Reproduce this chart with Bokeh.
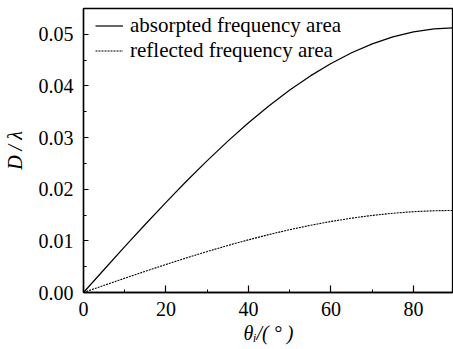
from bokeh.plotting import figure
from bokeh.models import Range1d, Legend, LegendItem, NumeralTickFormatter, FixedTicker
from bokeh.embed import file_html
from bokeh.resources import INLINE

# data
theta = [0, 5, 10, 15, 20, 25, 30, 35, 40, 45, 50, 55, 60, 65, 70, 75, 80, 85, 90]
absorbed = [0.0, 0.00445, 0.00888, 0.01322, 0.01745, 0.02160, 0.02555, 0.02932, 0.03287,
            0.03618, 0.03922, 0.04195, 0.04436, 0.04643, 0.04815, 0.04950, 0.05048, 0.05106, 0.05128]
reflected = [0.0, 0.00139, 0.00276, 0.00411, 0.00543, 0.00671, 0.00794, 0.00911, 0.01021,
             0.01123, 0.01217, 0.01301, 0.01376, 0.01440, 0.01493, 0.01535, 0.01565, 0.01583, 0.01590]
x_ticks = [0, 20, 40, 60, 80]
x_minor = [10, 30, 50, 70]
y_ticks = [0.00, 0.01, 0.02, 0.03, 0.04, 0.05]
y_minor = [0.005, 0.015, 0.025, 0.035, 0.045]
series_labels = ["absorpted frequency area", "reflected frequency area"]
x_title = "θᵢ/( ° )"
y_title = "D / λ"

FONT = "Liberation Serif"

p = figure(width=453, height=349, output_backend="svg", toolbar_location=None,
           x_range=Range1d(0, 89.7), y_range=Range1d(0, 0.0550),
           min_border_left=83, min_border_right=0, min_border_top=8, min_border_bottom=57)

p.xgrid.visible = False
p.ygrid.visible = False
p.background_fill_color = "white"
p.border_fill_color = "white"
p.outline_line_color = "black"
p.outline_line_width = 1.3

r1 = p.line(theta, absorbed, line_color="black", line_width=1.2)
r2 = p.line(theta, reflected, line_color="black", line_width=1.1, line_dash="2 1")

for ax in (p.xaxis[0], p.yaxis[0]):
    ax.axis_line_color = "black"
    ax.axis_line_width = 1.4
    ax.major_tick_line_color = "black"
    ax.minor_tick_line_color = "black"
    ax.major_tick_line_width = 1.2
    ax.minor_tick_line_width = 1.0
    ax.major_tick_out = 0
    ax.minor_tick_out = 0
    ax.minor_tick_in = 3
    ax.major_label_text_font = FONT
    ax.major_label_text_font_size = "20px"
    ax.major_label_text_color = "black"
    ax.axis_label_text_font = FONT
    ax.axis_label_text_font_size = "20px"
    ax.axis_label_text_color = "black"
    ax.axis_label_text_font_style = "italic"

p.xaxis[0].major_tick_in = 7
p.yaxis[0].major_tick_in = 5

p.xaxis[0].ticker = FixedTicker(ticks=x_ticks, minor_ticks=x_minor)
p.yaxis[0].ticker = FixedTicker(ticks=y_ticks, minor_ticks=y_minor)
p.yaxis[0].formatter = NumeralTickFormatter(format="0.00")
p.xaxis[0].major_label_standoff = 9
p.yaxis[0].major_label_standoff = 10

p.xaxis[0].axis_label = x_title
p.xaxis[0].axis_label_standoff = 3
p.yaxis[0].axis_label = y_title
p.yaxis[0].axis_label_standoff = 10

legend = Legend(items=[LegendItem(label=series_labels[0], renderers=[r1]),
                       LegendItem(label=series_labels[1], renderers=[r2])],
                location=(8, 225), orientation="vertical")
legend.border_line_alpha = 0
legend.background_fill_alpha = 0
legend.label_text_font = FONT
legend.label_text_font_size = "21px"
legend.label_text_color = "black"
legend.glyph_width = 28
legend.glyph_height = 25
legend.label_height = 25
legend.label_standoff = 7
legend.spacing = 0
legend.padding = 4
legend.margin = 0
p.add_layout(legend)

open("out.html", "w").write(file_html(p, INLINE))
